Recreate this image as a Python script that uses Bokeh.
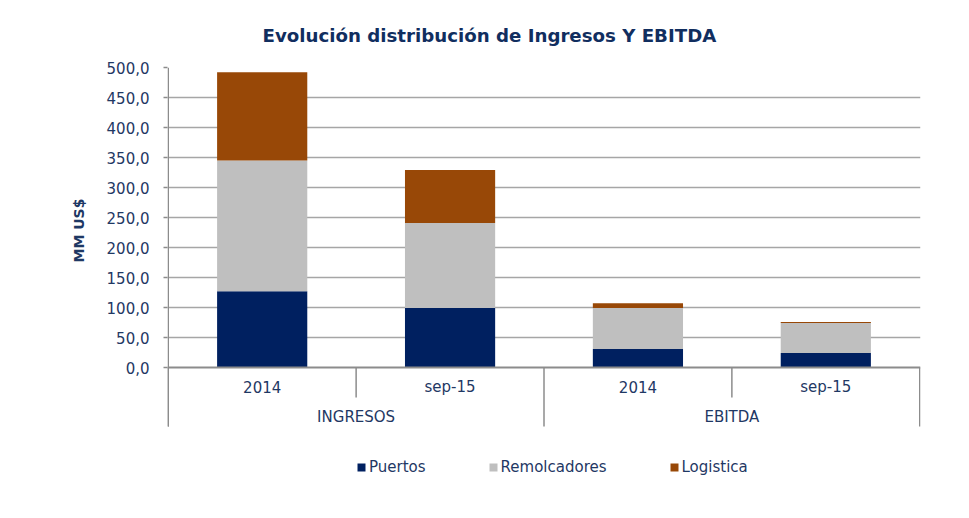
from bokeh.plotting import figure
from bokeh.models import Range1d, FixedTicker, Span, Legend, LegendItem, ColumnDataSource, Title
from bokeh.embed import file_html
from bokeh.resources import INLINE
from bokeh.core.properties import value

# ---- data ----
groups = ["INGRESOS", "EBITDA"]
periods = ["2014", "sep-15", "2014", "sep-15"]
series = ["Puertos", "Remolcadores", "Logistica"]
puertos = [127, 99, 31, 24]
remolcadores = [218, 142, 68, 50]
logistica = [147, 88, 8, 2]
y_ticks = [0, 50, 100, 150, 200, 250, 300, 350, 400, 450, 500]
y_tick_labels = ["0,0", "50,0", "100,0", "150,0", "200,0", "250,0",
                 "300,0", "350,0", "400,0", "450,0", "500,0"]

# ---- style ----
colors = ["#002060", "#BFBFBF", "#984807"]
txt = "#1F3864"
font = "DejaVu Sans"
axis_gray = "#8C8C8C"
grid_gray = "#A6A6A6"

ymax = 500
px_per_unit = 300 / ymax          # 300 px for 500 units
band_px = 59                      # category-label band below the baseline
frame_below_px = 122              # frame continues down to hold the legend
band_min = -band_px / px_per_unit
ymin = -frame_below_px / px_per_unit

n = len(periods)
xs = [i + 0.5 for i in range(n)]

p = figure(width=955, height=507, output_backend="svg", toolbar_location=None,
           x_range=Range1d(-0.004, n + 0.004), y_range=Range1d(ymin, ymax),
           x_axis_location=None, min_border_left=167, min_border_right=35,
           min_border_top=67, min_border_bottom=18)
p.outline_line_color = None
p.background_fill_color = "white"

src = ColumnDataSource(dict(x=xs, Puertos=puertos, Remolcadores=remolcadores,
                            Logistica=logistica))
rs = p.vbar_stack(series, x="x", width=0.48, color=colors, source=src,
                  line_color=None)

# y axis (line drawn separately so it stops at the category band)
yax = p.yaxis[0]
yax.ticker = FixedTicker(ticks=y_ticks)
yax.major_label_overrides = {t: l for t, l in zip(y_ticks, y_tick_labels)}
yax.major_label_text_font = font
yax.major_label_text_font_size = "15px"
yax.major_label_text_color = txt
yax.major_label_standoff = 14
yax.major_tick_out = 4
yax.major_tick_in = 0
yax.minor_tick_line_color = None
yax.major_tick_line_color = axis_gray
yax.major_tick_line_width = 1.5
yax.axis_line_color = None

# value-axis title, placed along the value part of the axis
ytitle = Title(text="MM US$", align="left", offset=227, standoff=34,
               text_font=font, text_font_size="14px", text_font_style="bold",
               text_color=txt)
p.add_layout(ytitle, "left")

p.xgrid.visible = False
p.ygrid.ticker = FixedTicker(ticks=y_ticks[1:])
p.ygrid.grid_line_color = grid_gray
p.ygrid.grid_line_width = 1.5
p.ygrid.level = "underlay"

# baseline
p.add_layout(Span(location=0, dimension="width", line_color=axis_gray, line_width=2))
# value-axis line
p.segment(x0=[0], y0=[band_min], x1=[0], y1=[ymax], line_color=axis_gray, line_width=1.5)

# category separators (group edges long, inner edges short)
sub_per_group = n // len(groups)
bounds = list(range(n + 1))
depth = [band_min if b % sub_per_group == 0 else -30 / px_per_unit for b in bounds]
p.segment(x0=bounds, y0=[0] * len(bounds), x1=bounds, y1=depth,
          line_color=axis_gray, line_width=1.5)

# category labels
p.text(x=xs, y=[-19 / px_per_unit] * n, text=periods, text_align="center",
       text_baseline="middle", text_font=value(font), text_font_size="15px",
       text_color=txt)
gx = [g * sub_per_group + sub_per_group / 2 for g in range(len(groups))]
p.text(x=gx, y=[-49 / px_per_unit] * len(groups), text=groups, text_align="center",
       text_baseline="middle", text_font=value(font), text_font_size="15px",
       text_color=txt)

# title
p.title.text = "Evolución distribución de Ingresos Y EBITDA"
p.title.align = "left"
p.title.offset = 95
p.title.vertical_align = "top"
p.title.text_font = font
p.title.text_font_size = "18.2px"
p.title.text_font_style = "bold"
p.title.text_color = "#112E5F"
p.title.standoff = 40

legend = Legend(items=[LegendItem(label=s, renderers=[r]) for s, r in zip(series, rs)],
                orientation="horizontal", location=(189, 13), margin=0,
                spacing=62, glyph_width=10, glyph_height=10, label_standoff=3,
                label_text_font=font, label_text_font_size="15px",
                label_text_color=txt, border_line_color=None,
                background_fill_alpha=0, padding=5)
p.add_layout(legend, "center")

open("out.html", "w").write(file_html(p, INLINE))
